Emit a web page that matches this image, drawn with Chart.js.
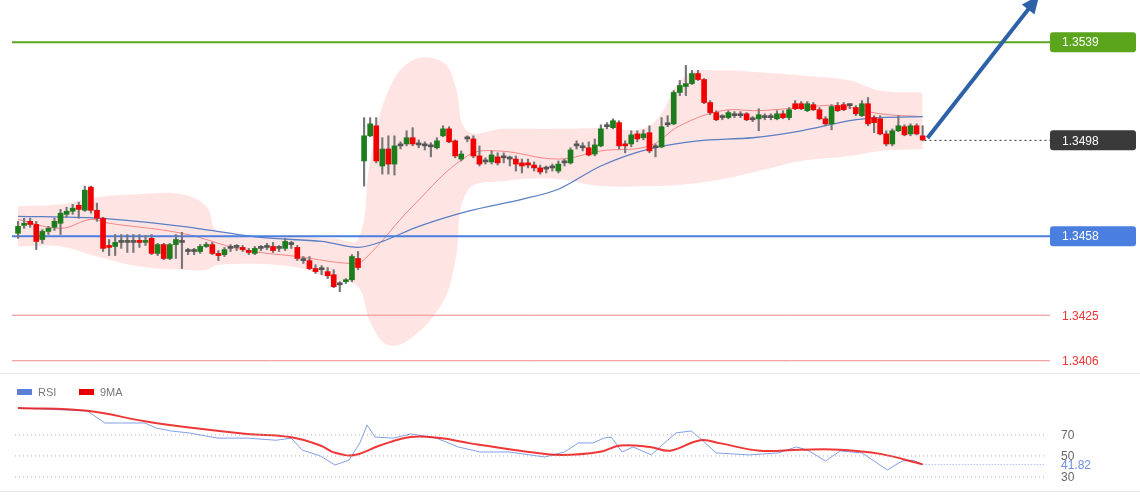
<!DOCTYPE html>
<html>
<head>
<meta charset="utf-8">
<script src="https://cdn.jsdelivr.net/npm/chart.js@4"></script>
<style>
  body { margin: 0; background: #fff; width: 1140px; height: 500px; overflow: hidden; font-family: "Liberation Sans", Arial, sans-serif; }
  #price { position: absolute; left: 0; top: 0; }
  #rsi { position: absolute; left: 0; top: 375px; }
  .sep { position: absolute; left: 0; width: 1140px; height: 1px; background: #e8e8e8; }
</style>
</head>
<body>
<canvas id="price" width="1140" height="372"></canvas>
<div class="sep" style="top:373px"></div>
<canvas id="rsi" width="1140" height="115"></canvas>
<div class="sep" style="top:491px"></div>
<script>
// prices in points (1e-5), candle index 0..149
const openPts = [134592,134625,134642,134629,134566,134600,134617,134634,134671,134684,134709,134688,134785,134688,134655,134537,134537,134554,134554,134554,134562,134554,134571,134508,134545,134487,134545,134554,134516,134516,134516,134537,134545,134508,134503,134529,134533,134533,134520,134508,134529,134533,134537,134529,134529,134545,134533,134478,134478,134445,134440,134432,134419,134377,134390,134398,134487,134894,134999,135041,134873,134944,134881,134957,134965,134991,134961,134957,134953,134949,134999,135028,134978,134902,134986,134986,134915,134890,134890,134911,134907,134902,134902,134886,134886,134877,134865,134860,134865,134852,134886,134886,134957,134949,134949,134923,134957,135037,135033,135054,134965,134965,135007,134991,135012,134949,134953,135045,135049,135180,135205,135217,135259,135234,135138,135096,135075,135075,135083,135083,135091,135066,135070,135075,135075,135070,135091,135075,135133,135133,135104,135129,135108,135070,135049,135125,135129,135125,135117,135083,135133,135075,135070,135007,134965,135020,135037,135007,135041,134999];
const closePts = [134621,134634,134629,134558,134600,134613,134642,134676,134684,134697,134692,134772,134688,134655,134529,134533,134554,134554,134554,134554,134554,134562,134508,134545,134487,134545,134566,134554,134516,134516,134537,134545,134508,134499,134524,134529,134533,134524,134512,134529,134529,134533,134520,134529,134558,134545,134487,134478,134445,134432,134440,134415,134369,134377,134394,134495,134449,134999,135049,134894,134944,134881,134957,134957,134991,134965,134961,134957,134953,134978,135028,134974,134915,134923,134986,134915,134881,134890,134919,134886,134907,134902,134881,134873,134877,134865,134848,134860,134865,134881,134886,134940,134957,134949,134919,134961,135028,135037,135062,134957,134957,135003,134986,135007,134936,134949,135037,135045,135180,135209,135217,135259,135234,135138,135096,135066,135075,135096,135083,135083,135066,135066,135087,135075,135075,135091,135075,135108,135112,135112,135133,135108,135070,135049,135121,135104,135108,135125,135091,135133,135049,135054,135007,134965,135020,135041,135003,135041,135007,134982];
const highPts = [134642,134655,134655,134642,134608,134621,134655,134692,134701,134713,134722,134789,134789,134718,134659,134566,134587,134587,134587,134587,134587,134583,134587,134550,134550,134550,134587,134596,134529,134529,134545,134554,134554,134520,134533,134545,134545,134541,134529,134537,134541,134550,134554,134541,134571,134558,134541,134495,134495,134461,134457,134449,134440,134390,134403,134503,134516,135075,135075,135075,134991,134999,134999,134974,135020,135033,134982,134974,134970,134991,135041,135037,134982,134936,134999,134999,134957,134907,134936,134928,134928,134915,134915,134902,134902,134890,134877,134873,134881,134894,134902,134949,134978,134970,134974,134986,135045,135054,135070,135062,134978,135020,135020,135024,135041,134965,135075,135083,135188,135230,135293,135272,135272,135238,135146,135104,135087,135104,135100,135100,135096,135079,135112,135091,135091,135104,135104,135117,135146,135142,135142,135138,135117,135079,135129,135138,135138,135133,135125,135146,135159,135083,135083,135020,135028,135083,135045,135049,135049,135041];
const lowPts = [134571,134613,134617,134524,134550,134587,134604,134587,134659,134671,134655,134684,134676,134642,134516,134499,134499,134529,134512,134512,134533,134541,134503,134499,134482,134482,134487,134445,134503,134503,134508,134533,134503,134478,134495,134516,134520,134516,134503,134503,134520,134524,134512,134516,134520,134529,134478,134466,134440,134424,134419,134403,134365,134348,134382,134390,134440,134789,134995,134886,134839,134839,134835,134944,134957,134957,134949,134940,134911,134944,134995,134970,134907,134894,134974,134907,134873,134881,134881,134877,134886,134873,134852,134844,134865,134852,134839,134844,134852,134844,134873,134881,134944,134936,134915,134915,134953,135028,135028,134944,134928,134953,134974,134982,134928,134911,134949,135037,135045,135167,135167,135213,135230,135133,135087,135062,135066,135070,135075,135075,135062,135058,135020,135066,135066,135066,135070,135066,135108,135108,135100,135104,135066,135041,135024,135100,135104,135112,135083,135079,135041,135012,135003,134957,134957,135016,134999,134999,135003,134978];

// bollinger envelope and moving averages, read at sparse candle indices
const bandIdx = [0,7,13,20,27,31,33,45,52,56,58,61,65,70,72,74,80,89,96,104,110,116,122,129,137,142,149];
const bandUpper = [134705,134713,134743,134755,134755,134705,134600,134579,134571,134566,134894,135188,135314,135306,135209,135020,135028,135028,135033,135041,135251,135272,135264,135251,135230,135188,135180];
const bandLower = [134537,134537,134495,134453,134440,134440,134461,134453,134398,134369,134222,134125,134159,134306,134474,134768,134810,134818,134789,134789,134797,134818,134852,134894,134915,134936,134944];
const fastIdx = [0,7,12,15,27,37,46,55,57,65,74,79,89,96,104,109,116,122,129,135,142,149];
const fastMA = [134650,134613,134650,134634,134592,134524,134495,134466,134482,134705,134915,134936,134902,134936,134957,135041,135104,135104,135117,135125,135091,135079];
const slowIdx = [0,13,27,40,50,56,60,66,74,83,89,96,104,112,121,129,137,142,149];
const slowMA = [134663,134655,134621,134575,134558,134533,134558,134621,134684,134734,134776,134873,134944,134978,134991,135020,135062,135075,135079];

const levels = [
  { value: 1.3539, text: "1.3539", color: "#5aa51c", width: 2, box: true },
  { value: 1.3458, text: "1.3458", color: "#4a7fe0", width: 2, box: true },
  { value: 1.3425, text: "1.3425", color: "#f28a8a", width: 1, box: false },
  { value: 1.3406, text: "1.3406", color: "#f28a8a", width: 1, box: false }
];
const lastPrice = 1.3498;
const targetPrice = 1.35566;

const rsiIdx = [0,11.4,14.3,20.9,22.7,25.2,28.2,32.9,37.7,42.5,45,46.8,49.8,52.2,54.5,56.3,57.5,58.8,61.8,64.7,68.9,72.5,76.1,80.9,86.8,90,92.3,94.7,96.5,97.7,99.5,101.3,104.3,106.1,108.4,110.9,112.7,115,120.4,125.2,128.2,130,133,135.4,139,143.2,145.6,147.4,149];
const rsiVals = [95.7,92.9,81.4,81.4,76.7,73.8,71.9,67,67,65,67,55.7,50,41.4,46,62.4,79.5,68,67,71,67,58.6,53.8,53.8,49,53.8,62.4,62.4,67,68,53.8,58.6,51,60.5,72,73.8,65,52.9,51,52.9,58.6,55.7,45.2,54.8,52.9,36.7,45.2,46,41.82];
const maIdx = [0,11.4,20.9,28.2,37.7,44.8,49.8,52.2,55.5,59.6,64.7,69.5,74.5,82.7,89.3,95.9,99.2,104.1,107.4,112.4,115.7,122.2,128.8,135.4,142,149];
const maVals = [95.7,93,83,77,71,68,60,53,51,60,68,67,62,55,51,54,60,58.6,55,65,62,55,56,56,52,42];
const rsiLines = [70, 50, 30];

const P = v => v / 1e5;
const GREEN = "#1c7d1c", RED = "#f00000", DOJI = "#555";
const candleColor = i => closePts[i] > openPts[i] ? GREEN : closePts[i] < openPts[i] ? RED : DOJI;
const pts = (xs, ys, f = P) => xs.map((x, i) => ({ x, y: f(ys[i]) }));
const X_MIN = -2.97, X_MAX = 184.8, LEVEL_END = 170;

const labelPlugin = {
  id: "labels",
  afterDatasetsDraw(chart) {
    const ctx = chart.ctx, y = chart.scales.y;
    ctx.save();
    ctx.font = "12px 'Liberation Sans', Arial";
    ctx.textBaseline = "middle";
    const badge = (v, text, bg, fg) => {
      const py = y.getPixelForValue(v);
      if (bg) {
        ctx.fillStyle = bg;
        ctx.beginPath();
        ctx.roundRect(1050, py - 10, 86, 20, 3);
        ctx.fill();
      }
      ctx.fillStyle = fg;
      ctx.fillText(text, 1062, py + 1);
    };
    levels.forEach(l => badge(l.value, l.text, l.box ? l.color : null, l.box ? "#fff" : "#e33"));
    badge(lastPrice, "1.3498", "#3a3a3a", "#fff");
    // arrow head
    const meta = chart.getDatasetMeta(chart.data.datasets.findIndex(d => d.label === "arrow"));
    const a = meta.data[0], b = meta.data[1];
    const ang = Math.atan2(b.y - a.y, b.x - a.x);
    ctx.fillStyle = "#2d62a8";
    ctx.beginPath();
    ctx.moveTo(b.x + 6 * Math.cos(ang), b.y + 6 * Math.sin(ang));
    ctx.lineTo(b.x - 12 * Math.cos(ang) + 8 * Math.sin(ang), b.y - 12 * Math.sin(ang) - 8 * Math.cos(ang));
    ctx.lineTo(b.x - 12 * Math.cos(ang) - 8 * Math.sin(ang), b.y - 12 * Math.sin(ang) + 8 * Math.cos(ang));
    ctx.closePath();
    ctx.fill();
    ctx.restore();
  }
};

const idx = openPts.map((_, i) => i);
const datasets = [
  { type: "line", data: pts(bandIdx, bandUpper), borderWidth: 0, pointRadius: 0, tension: 0.4, fill: false, order: 20 },
  { type: "line", data: pts(bandIdx, bandLower), borderWidth: 0, pointRadius: 0, tension: 0.4, fill: "-1", backgroundColor: "rgba(255,190,190,0.42)", order: 19 },
  { type: "line", data: pts(fastIdx, fastMA), borderColor: "rgba(240,110,110,0.8)", borderWidth: 1, pointRadius: 0, tension: 0.4, order: 10 },
  { type: "line", data: pts(slowIdx, slowMA), borderColor: "#5b7fc4", borderWidth: 1.3, pointRadius: 0, tension: 0.3, order: 9 },
  ...levels.map(l => ({ type: "line", data: [{ x: -1, y: l.value }, { x: LEVEL_END, y: l.value }], borderColor: l.color, borderWidth: l.width, pointRadius: 0, order: 8 })),
  { type: "line", data: [{ x: 149.3, y: lastPrice }, { x: LEVEL_END, y: lastPrice }], borderColor: "#333", borderWidth: 1, borderDash: [2, 3], pointRadius: 0, order: 8 },
  { type: "bar", data: idx.map(i => ({ x: i, y: [P(lowPts[i]), P(highPts[i])] })), backgroundColor: "#777", barThickness: 1.5, grouped: false, order: 3 },
  { type: "bar", data: idx.map(i => ({ x: i, y: [P(openPts[i]), P(closePts[i])] })), backgroundColor: idx.map(candleColor), barThickness: 5, minBarLength: 2, grouped: false, order: 2 },
  { type: "line", label: "arrow", data: [{ x: 149.8, y: P(134990) }, { x: 167.6, y: targetPrice }], borderColor: "#2d62a8", borderWidth: 4, pointRadius: 0, order: 0 }
];

new Chart(document.getElementById("price"), {
  type: "bar",
  data: { datasets },
  options: {
    responsive: false, animation: false, devicePixelRatio: 1,
    layout: { padding: 0 },
    plugins: { legend: { display: false }, tooltip: { enabled: false } },
    scales: {
      x: { type: "linear", min: X_MIN, max: X_MAX, display: false, offset: false },
      y: { min: 1.34013, max: 1.35566, display: false }
    }
  },
  plugins: [labelPlugin]
});

const rsiPlugin = {
  id: "rsiLabels",
  afterDatasetsDraw(chart) {
    const ctx = chart.ctx, y = chart.scales.y;
    ctx.save();
    ctx.font = "12px 'Liberation Sans', Arial";
    ctx.textBaseline = "middle";
    ctx.fillStyle = "#666";
    rsiLines.forEach(v => ctx.fillText(String(v), 1061, y.getPixelForValue(v) + 1));
    ctx.fillStyle = "#6d8fe6";
    ctx.fillText(rsiVals[rsiVals.length - 1].toFixed(2), 1061, y.getPixelForValue(rsiVals[rsiVals.length - 1]) + 1);
    // legend
    ctx.font = "11px 'Liberation Sans', Arial";
    ctx.fillStyle = "#5b7fd8"; ctx.fillRect(17, 14, 15, 6);
    ctx.fillStyle = "#e60000"; ctx.fillRect(79, 14, 15, 6);
    ctx.fillStyle = "#777";
    ctx.fillText("RSI", 38, 18);
    ctx.fillText("9MA", 100, 18);
    ctx.restore();
  }
};

new Chart(document.getElementById("rsi"), {
  type: "line",
  data: {
    datasets: [
      ...rsiLines.map(v => ({ data: [{ x: -0.5, y: v }, { x: 169, y: v }], borderColor: "#aaa", borderWidth: 1, borderDash: [1, 3], pointRadius: 0 })),
      { data: [{ x: 149, y: 41.82 }, { x: 169, y: 41.82 }], borderColor: "#8aa6ee", borderWidth: 1, borderDash: [1, 2], pointRadius: 0 },
      { data: pts(maIdx, maVals, v => v), borderColor: "rgba(235,20,20,0.85)", borderWidth: 2, pointRadius: 0, tension: 0.4 },
      { data: pts(rsiIdx, rsiVals, v => v), borderColor: "rgba(100,135,225,0.8)", borderWidth: 1, pointRadius: 0, tension: 0 }
    ]
  },
  options: {
    responsive: false, animation: false, devicePixelRatio: 1,
    layout: { padding: 0 },
    plugins: { legend: { display: false }, tooltip: { enabled: false } },
    scales: {
      x: { type: "linear", min: X_MIN, max: X_MAX, display: false },
      y: { min: 17.6, max: 127.1, display: false }
    }
  },
  plugins: [rsiPlugin]
});
</script>
</body>
</html>
